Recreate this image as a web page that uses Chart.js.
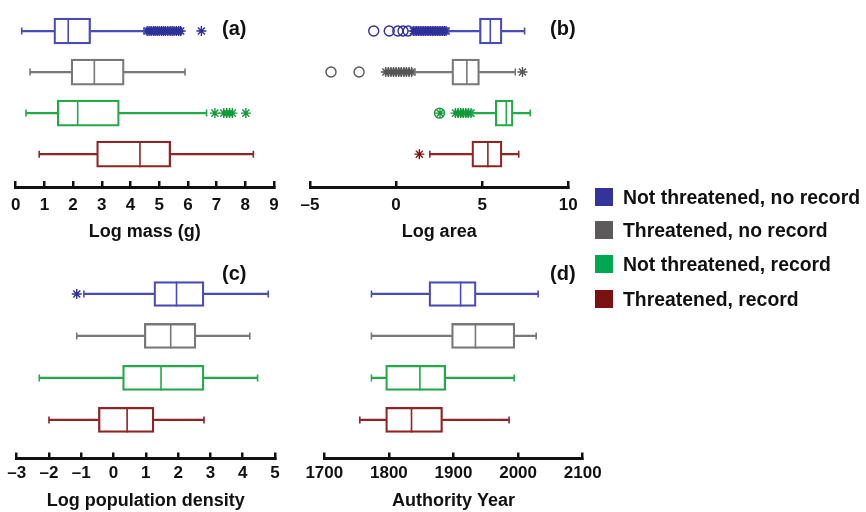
<!DOCTYPE html>
<html>
<head>
<meta charset="utf-8">
<script src="https://cdn.jsdelivr.net/npm/chart.js@4.4.1/dist/chart.umd.min.js"></script>
<style>
  body { margin: 0; background: #fff; width: 866px; height: 512px; position: relative; overflow: hidden;
         font-family: "Liberation Sans", Arial, sans-serif; color: #111; }
  canvas { position: absolute; }
  .tag { position: absolute; font-weight: bold; font-size: 20px; line-height: 20px; }
  .key { position: absolute; left: 595px; height: 18px; font-weight: bold; font-size: 19.4px; line-height: 18px; white-space: nowrap; }
  .key span { display: inline-block; width: 18px; height: 18px; vertical-align: top; margin-right: 10px; }
</style>
</head>
<body>
<canvas id="chartA"></canvas>
<canvas id="chartB"></canvas>
<canvas id="chartC"></canvas>
<canvas id="chartD"></canvas>

<div class="tag" style="left:222px;top:18px">(a)</div>
<div class="tag" style="left:550px;top:18px">(b)</div>
<div class="tag" style="left:222px;top:263px">(c)</div>
<div class="tag" style="left:550px;top:263px">(d)</div>
<div id="legend"></div>

<script>
// groups, top to bottom in every panel
var groups = ['Not threatened, no record', 'Threatened, no record', 'Not threatened, record', 'Threatened, record'];
var lineColors = ['#4b4bb8', '#787878', '#23a84a', '#8e2424'];
var markColors = ['#30309a', '#565656', '#129a3a', '#7e1616'];
var keyColors = ['#333399', '#5c5a5a', '#00a650', '#7a1212'];

// [min whisker, q1, median, q3, max whisker] per group
var massStats = [[0.21, 1.33, 1.83, 2.61, 4.47], [0.5, 1.93, 2.74, 3.78, 5.9], [0.36, 1.45, 2.16, 3.61, 6.65], [0.82, 2.82, 4.33, 5.4, 8.28]];
var areaStats = [[3.05, 4.84, 5.47, 6.15, 7.46], [1.1, 3.24, 4.11, 4.84, 6.92], [4.4, 5.76, 6.4, 6.79, 7.79], [1.96, 4.4, 5.33, 6.15, 7.12]];
var densityStats = [[-0.92, 1.25, 1.95, 2.8, 4.79], [-1.14, 0.95, 1.77, 2.55, 4.22], [-2.3, 0.28, 1.47, 2.8, 4.46], [-2.0, -0.47, 0.42, 1.25, 2.8]];
var yearStats = [[1773, 1862, 1911, 1935, 2031], [1773, 1897, 1934, 1995, 2028], [1773, 1795, 1848, 1888, 1994], [1755, 1795, 1835, 1883, 1986]];

// outliers (asterisks and circles) per group
var massStars = [[4.58, 4.65, 4.72, 4.8, 4.86, 4.93, 5.0, 5.08, 5.15, 5.22, 5.3, 5.38, 5.45, 5.52, 5.6, 5.68, 5.75, 6.47], [], [6.94, 7.25, 7.35, 7.45, 7.55, 8.02], []];
var massCircles = [[], [], [], []];
var areaStars = [[1.0, 1.1, 1.2, 1.3, 1.4, 1.5, 1.6, 1.7, 1.8, 1.9, 2.0, 2.1, 2.2, 2.3, 2.4, 2.5, 2.6, 2.7, 2.8, 2.9],
                 [-0.6, -0.45, -0.3, -0.15, 0, 0.15, 0.3, 0.45, 0.6, 0.75, 0.9, 7.34],
                 [2.55, 3.45, 3.6, 3.75, 3.9, 4.05, 4.2, 4.35],
                 [1.35]];
var areaCircles = [[-1.3, -0.4, 0.1, 0.4, 0.7], [-3.78, -2.15], [2.52], []];
var densityStars = [[-1.14], [], [], []];
var densityCircles = [[], [], [], []];
var yearStars = [[], [], [], []];
var yearCircles = [[], [], [], []];

// tick labels
var massTicks = [0, 1, 2, 3, 4, 5, 6, 7, 8, 9];
var areaTicks = [-5, 0, 5, 10];
var densityTicks = [-3, -2, -1, 0, 1, 2, 3, 4, 5];
var yearTicks = [1700, 1800, 1900, 2000, 2100];

Chart.defaults.font.family = '"Liberation Sans", Arial, sans-serif';
Chart.defaults.color = '#111';

var EDGE = 34; // room for the end tick labels

function outliers(values, style, radius) {
  var pts = [], cols = [];
  values.forEach(function (row, i) {
    row.forEach(function (v) { pts.push({x: v, y: i}); cols.push(markColors[i]); });
  });
  return {type: 'scatter', data: pts, pointStyle: style, pointRadius: radius, pointBorderWidth: 1.4,
          pointBorderColor: cols, pointBackgroundColor: 'rgba(0,0,0,0)'};
}

function makePanel(id, stats, stars, circles, ticks, title, box) {
  // place the canvas so the plot area spans box.x0..box.x1 on the page
  var canvas = document.getElementById(id);
  var left = Math.floor(box.x0) - EDGE;
  var right = Math.ceil(box.x1) + EDGE;
  canvas.width = right - left;
  canvas.height = 250;
  canvas.style.left = left + 'px';
  canvas.style.top = box.top + 'px';
  var padL = box.x0 - left, padR = right - box.x1;

  var whisker = {type: 'bar', grouped: false, barThickness: 1.6, borderWidth: 0, backgroundColor: lineColors};
  var datasets = [
    Object.assign({data: stats.map(function (s, i) { return {y: i, x: [s[0], s[1]]}; })}, whisker),
    Object.assign({data: stats.map(function (s, i) { return {y: i, x: [s[3], s[4]]}; })}, whisker),
    {type: 'bar', grouped: false, barThickness: box.boxH, borderWidth: 1.6, borderSkipped: false,
     borderColor: lineColors, backgroundColor: 'rgba(0,0,0,0)',
     data: stats.map(function (s, i) { return {y: i, x: [s[1], s[3]]}; })},
    // median
    {type: 'scatter', pointStyle: 'line', pointRotation: 90, pointRadius: box.boxH / 2, pointBorderWidth: 1.6,
     pointBorderColor: lineColors, data: stats.map(function (s, i) { return {x: s[2], y: i}; })},
    // whisker caps
    {type: 'scatter', pointStyle: 'line', pointRotation: 90, pointRadius: 3.5, pointBorderWidth: 1.6,
     pointBorderColor: lineColors, data: stats.map(function (s, i) { return {x: s[0], y: i}; })},
    {type: 'scatter', pointStyle: 'line', pointRotation: 90, pointRadius: 3.5, pointBorderWidth: 1.6,
     pointBorderColor: lineColors, data: stats.map(function (s, i) { return {x: s[4], y: i}; })},
    outliers(stars, 'star', 5),
    outliers(circles, 'circle', 5)
  ];

  return new Chart(canvas, {
    type: 'bar',
    data: {datasets: datasets},
    options: {
      indexAxis: 'y',
      responsive: false,
      animation: false,
      events: [],
      layout: {autoPadding: false, padding: {left: padL, right: padR, top: box.padT, bottom: 0}},
      plugins: {legend: {display: false}, tooltip: {enabled: false}},
      scales: {
        x: {
          type: 'linear',
          position: 'bottom',
          offset: false,
          min: ticks[0],
          max: ticks[ticks.length - 1],
          afterBuildTicks: function (scale) { scale.ticks = ticks.map(function (v) { return {value: v}; }); },
          afterFit: function (scale) { scale.height = box.axisH; },
          border: {display: true, color: '#111', width: 3},
          grid: {display: true, offset: false, drawOnChartArea: false, drawTicks: true, tickLength: -6, color: '#111', lineWidth: 2.5},
          ticks: {
            autoSkip: false, maxRotation: 0, padding: box.tickPad, color: '#111',
            font: {size: 17, weight: 'bold'},
            callback: function (v) { return String(v).replace('-', '\u2013'); }
          },
          title: {display: true, text: title, color: '#111', font: {size: 18, weight: 'bold'},
                  padding: {top: 0, bottom: box.titlePad}}
        },
        y: {type: 'linear', display: false, offset: false, min: -0.5, max: box.yMax, reverse: true}
      }
    }
  });
}

makePanel('chartA', massStats, massStars, massCircles, massTicks, 'Log mass (g)',
  {x0: 15.7, x1: 274, top: 0, padT: 10.5, axisH: 63, tickPad: 14.3, titlePad: 7, yMax: 3.8, boxH: 26});
makePanel('chartB', areaStats, areaStars, areaCircles, areaTicks, 'Log area',
  {x0: 310, x1: 568.3, top: 0, padT: 10.5, axisH: 63, tickPad: 14.3, titlePad: 7, yMax: 3.8, boxH: 26});
makePanel('chartC', densityStats, densityStars, densityCircles, densityTicks, 'Log population density',
  {x0: 16.7, x1: 275, top: 262, padT: 11, axisH: 53.5, tickPad: 10.3, titlePad: 0, yMax: 3.92, boxH: 25});
makePanel('chartD', yearStats, yearStars, yearCircles, yearTicks, 'Authority Year',
  {x0: 324.3, x1: 582.7, top: 262, padT: 11, axisH: 53.5, tickPad: 10.3, titlePad: 0, yMax: 3.92, boxH: 25});

// shared legend
var keyTops = [188, 221, 255, 290];
var legend = document.getElementById('legend');
groups.forEach(function (g, i) {
  var row = document.createElement('div');
  row.className = 'key';
  row.style.top = keyTops[i] + 'px';
  row.innerHTML = '<span style="background:' + keyColors[i] + '"></span>' + g;
  legend.appendChild(row);
});
</script>
</body>
</html>
